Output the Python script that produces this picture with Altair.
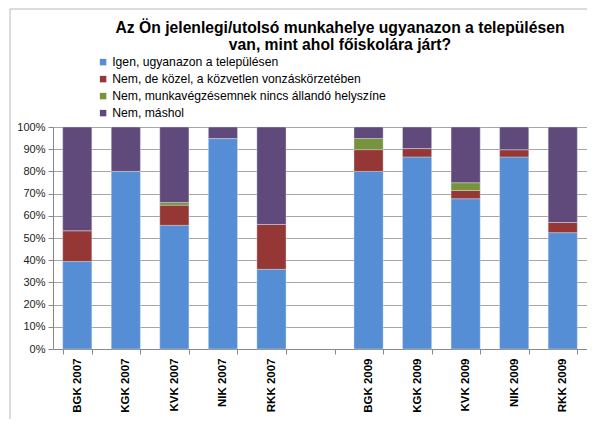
import altair as alt
import pandas as pd

categories = ["BGK 2007", "KGK 2007", "KVK 2007", "NIK 2007", "RKK 2007",
              " ",
              "BGK 2009", "KGK 2009", "KVK 2009", "NIK 2009", "RKK 2009"]
bar_categories = ["BGK 2007", "KGK 2007", "KVK 2007", "NIK 2007", "RKK 2007",
                  "BGK 2009", "KGK 2009", "KVK 2009", "NIK 2009", "RKK 2009"]
series = ["Igen, ugyanazon a településen",
          "Nem, de közel, a közvetlen vonzáskörzetében",
          "Nem, munkavégzésemnek nincs állandó helyszíne",
          "Nem, máshol"]
igen = [39.4, 80.0, 55.7, 94.8, 35.9, 80.0, 86.5, 67.7, 86.5, 52.4]
kozel = [13.9, 0.0, 9.1, 0.0, 20.2, 9.8, 3.8, 3.7, 3.3, 4.6]
nincs = [0.0, 0.0, 1.2, 0.0, 0.0, 5.0, 0.0, 3.5, 0.0, 0.0]
mashol = [46.7, 20.0, 34.0, 5.2, 43.9, 5.2, 9.7, 25.1, 10.2, 43.0]
colors = ["#558ED5", "#953735", "#77933C", "#604A7B"]
y_ticks = [0, 0.1, 0.2, 0.3, 0.4, 0.5, 0.6, 0.7, 0.8, 0.9, 1.0]
title_lines = ["Az Ön jelenlegi/utolsó munkahelye ugyanazon a településen",
               "van, mint ahol főiskolára járt?"]

rows = []
for i, cat in enumerate(bar_categories):
    for k, vals in enumerate([igen, kozel, nincs, mashol]):
        rows.append({"cat": cat, "series": series[k], "order": k,
                     "value": vals[i] / 100.0})
df = pd.DataFrame(rows)

FONT = "Liberation Sans"

bars = alt.Chart(df).mark_bar(stroke="#dfe6f0", strokeWidth=0.4).encode(
    x=alt.X("cat:N", sort=categories,
            scale=alt.Scale(domain=categories, paddingInner=0.4, paddingOuter=0.2),
            axis=alt.Axis(title=None, labelAngle=270, labelFontWeight="bold",
                          labelFontSize=11.5, labelColor="#000000", labelFont=FONT,
                          tickBand="extent", tickSize=5, tickColor="#888888",
                          domainColor="#888888", labelPadding=4, grid=False)),
    y=alt.Y("value:Q", stack="zero",
            scale=alt.Scale(domain=[0, 1], nice=False),
            axis=alt.Axis(title=None, format=".0%", values=y_ticks,
                          labelFontSize=11, labelFont=FONT, labelColor="#222222",
                          tickSize=5, tickColor="#888888", domainColor="#888888",
                          gridColor="#a6a6a6", gridWidth=1.2, labelPadding=3)),
    color=alt.Color("series:N",
                    scale=alt.Scale(domain=series, range=colors),
                    legend=alt.Legend(title=None, orient="none", legendX=44, legendY=-71,
                                      symbolType="square", symbolSize=42,
                                      symbolStrokeWidth=0, labelFontSize=12.2,
                                      labelFont=FONT, labelColor="#000000",
                                      labelLimit=500,
                                      rowPadding=4, labelOffset=3)),
    order=alt.Order("order:Q"),
)

frame = alt.Chart(pd.DataFrame({"a": [0]})).mark_rect(
    fill=None, stroke="#b8b8b8", strokeWidth=1
).encode(x=alt.value(-43), x2=alt.value(700), y=alt.value(-118), y2=alt.value(700))

title = alt.Chart(pd.DataFrame({"a": [0]})).mark_text(
    text=title_lines, font=FONT, fontSize=15.7, fontWeight="bold", color="#000000",
    align="center", baseline="alphabetic", lineHeight=17
).encode(x=alt.value(287), y=alt.value(-94))

chart = alt.layer(frame, bars, title).properties(
    width=534, height=222,
    autosize=alt.AutoSizeParams(type="none"),
    padding={"left": 45, "top": 119, "right": 0, "bottom": 70},
).configure_view(stroke=None).configure_axis(labelFont=FONT)

chart.save("out.html", embed_options={"renderer": "svg", "actions": False})
